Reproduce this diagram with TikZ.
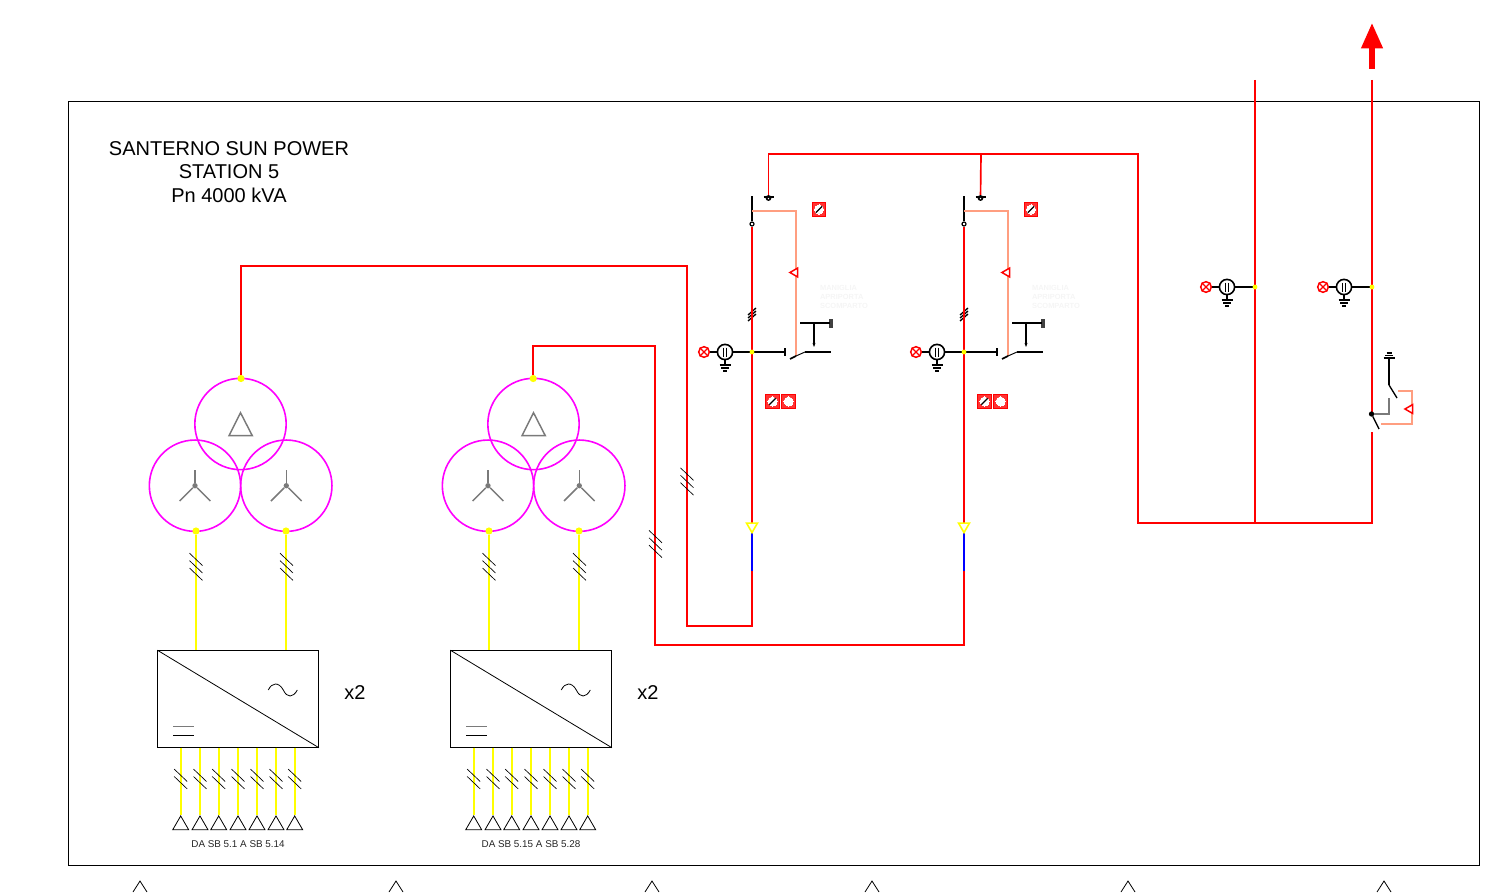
\documentclass[tikz,border=0pt]{standalone}
\usepackage{fontspec}
\setmainfont{Liberation Sans}
\usetikzlibrary{positioning,calc,arrows.meta,shapes.geometric}

\definecolor{auxline}{HTML}{FF9E80}
\definecolor{mvyellow}{HTML}{FFFF00}
\definecolor{symgray}{HTML}{7A7A7A}
\definecolor{windmag}{HTML}{FF00FF}

\begin{document}
\begin{tikzpicture}[
    x=0.75pt, y=-0.75pt,
    mv/.style={draw, color=red, line width=1.25pt},
    lv/.style={draw, color=mvyellow, line width=1.5pt},
    dcblue/.style={draw, color=blue, line width=1.25pt},
    aux/.style={draw, color=auxline, line width=1.2pt},
    blk/.style={draw, color=black, line width=1pt},
    hatch/.style={draw, color=black, line width=0.5pt},
    winding/.style={circle, draw=windmag, line width=1.2pt, minimum size=68.5pt, inner sep=0pt},
    symline/.style={draw, color=symgray, line width=1.1pt},
    ydot/.style={circle, fill=mvyellow, minimum size=5.4pt, inner sep=0pt},
    ytap/.style={circle, fill=mvyellow, minimum size=3.6pt, inner sep=0pt},
    contact/.style={circle, draw=black, fill=white, line width=0.9pt, minimum size=3pt, inner sep=0pt},
    inverter/.style={rectangle, draw, line width=0.6pt, minimum width=120.5pt, minimum height=72.5pt, inner sep=0pt},
    pvtri/.style={regular polygon, regular polygon sides=3, draw, line width=0.6pt, minimum size=13.9pt, inner sep=0pt},
    leftri/.style={regular polygon, regular polygon sides=3, shape border rotate=90, draw=red, fill=white, line width=1.1pt, minimum size=7.6pt, inner sep=0pt},
    downtri/.style={regular polygon, regular polygon sides=3, shape border rotate=180, draw=mvyellow, fill=white, line width=1.2pt, minimum size=9.4pt, inner sep=0pt},
    sqbox/.style={rectangle, draw=red, fill=red!80, line width=0.7pt, minimum size=10.2pt, inner sep=0pt},
    sqdisk/.style={circle, draw=white, fill=white, line width=0pt, minimum size=6.8pt, inner sep=0pt},
    meterc/.style={circle, draw=black, fill=white, line width=1.2pt, minimum size=11.4pt, inner sep=0pt},
    lampc/.style={circle, draw=red, fill=white, line width=1.1pt, minimum size=8pt, inner sep=0pt},
    title/.style={font=\fontsize{15}{17.6}\selectfont, align=center, inner sep=0pt},
    small/.style={font=\fontsize{7.4}{9}\selectfont, color=black!85, inner sep=0pt},
    ghost/.style={font=\fontsize{5.6}{6.5}\selectfont\bfseries, color=black!4, align=left, inner sep=0pt},
    tickthree/.pic={
        \foreach \t in {-7.4,0,7.4} \draw[hatch] (-6.5,\t-6.2) -- (6.5,\t+6.2);
    },
    ticktwo/.pic={
        \foreach \t in {-3.7,3.7} \draw[hatch] (-6.5,\t-6.2) -- (6.5,\t+6.2);
    },
    hvticks/.pic={
        \foreach \t in {-3,0,3} \draw[blk] (-4,\t+3.5) -- (4,\t-3.5);
    },
    meter/.pic={
        \draw[blk] (-20,0) -- (0,0);
        \draw[blk] (0,0) -- (0,13);
        \draw[blk, line width=1.3pt] (-5.5,13) -- (5.5,13);
        \draw[blk, line width=1.3pt] (-4,16) -- (4,16);
        \draw[blk, line width=1.3pt] (-2,19) -- (2,19);
        \node[meterc] (-c) at (0,0) {};
        \node[lampc] (-l) at (-21,0) {};
        \draw[blk, color=red] (-l.north west) -- (-l.south east);
        \draw[blk, color=red] (-l.north east) -- (-l.south west);
        \draw[blk] (-1.7,-4.5) -- (-1.7,4.5);
        \draw[blk] (1.7,-4.5) -- (1.7,4.5);
    },
    sqopen/.pic={
        \node[sqbox] (-s) at (0,0) {};
        \node[sqdisk] (-d) at (0,0) {};
    },
    sqslash/.pic={
        \node[sqbox] (-s) at (0,0) {};
        \node[sqdisk] (-d) at (0,0) {};
        \draw[blk] (-d.south west) -- (-d.north east);
    }
]

\useasboundingbox (0,0) rectangle (1509,892);

% Frame
\node[draw, line width=0.6pt, minimum width=1058.2pt, minimum height=573pt, inner sep=0pt] (frame) at (774,483.2) {};

% Title
\node[title] (station) at (229,172) {SANTERNO SUN POWER\\STATION 5\\Pn 4000 kVA};

% Transformers and inverters
\foreach \i/\dx/\lbl in {1/0/DA SB 5.1 A SB 5.14, 2/293/DA SB 5.15 A SB 5.28} {
\begin{scope}[xshift=\dx*0.75pt]
    \node[winding] (hvw\i) at (240.5,424) {};
    \node[winding] (lwa\i) at (195,485.7) {};
    \node[winding] (lwb\i) at (286.3,485.7) {};

    % delta and star marks
    \coordinate (da\i) at (240.5,412.7);
    \coordinate (db\i) at (229,435.7);
    \coordinate (dc\i) at (252.3,435.7);
    \draw[symline] (da\i) -- (db\i) -- (dc\i) -- cycle;
    \foreach \s/\cx in {a/195,b/286.3} {
        \node[circle, fill=symgray, minimum size=4pt, inner sep=0pt] (st\s\i) at (\cx,485.7) {};
        \coordinate (sx\s\i) at (\cx,469.7);
        \coordinate (sy\s\i) at (\cx-15.3,501);
        \coordinate (sz\s\i) at (\cx+15.3,501);
        \draw[symline] (st\s\i) -- (sx\s\i);
        \draw[symline] (st\s\i) -- (sy\s\i);
        \draw[symline] (st\s\i) -- (sz\s\i);
    }

    % Inverter box
    \node[inverter] (inv\i) at (238.2,699) {};
    \draw[line width=0.6pt] (inv\i.north west) -- (inv\i.south east);
    \draw[line width=0.6pt] (268.3,690) .. controls (272,682) and (279,682) .. (283.3,690) .. controls (287,698) and (293,698) .. (297.3,690);
    \coordinate (dca\i) at (173,726.7);
    \coordinate (dcb\i) at (194,726.7);
    \coordinate (dcc\i) at (173,735);
    \coordinate (dcd\i) at (194,735);
    \draw[symline, line width=0.7pt] (dca\i) -- (dcb\i);
    \draw[line width=0.6pt] (dcc\i) -- (dcd\i);
    \node[title] (mult\i) at (355,692.5) {x2};

    % Low voltage leads
    \node[ydot] (lva\i) at (196,531) {};
    \node[ydot] (lvb\i) at (286,531) {};
    \coordinate (ina\i) at (196,650);
    \coordinate (inb\i) at (286,650);
    \draw[lv] (lva\i) -- (ina\i);
    \draw[lv] (lvb\i) -- (inb\i);
    \pic at (196,566.8) {tickthree};
    \pic at (286.5,566.8) {tickthree};

    % String inputs
    \foreach \n/\sx in {1/180.7,2/200,3/218.7,4/238,5/257,6/276,7/294.7} {
        \coordinate (so\i\n) at (\sx,747.5);
        \node[pvtri] (pv\i\n) at (\sx,825.2) {};
        \draw[lv] (so\i\n) -- (pv\i\n.corner 1);
        \pic at (\sx,779) {ticktwo};
    }
    \node[small] (strings\i) at (238,844) {\lbl};
\end{scope}
}

% Dots on the delta windings
\node[ydot] (hv1) at (241,378.5) {};
\node[ydot] (hv2) at (533.2,378.5) {};

% MV bays
\foreach \i/\dx in {1/0,2/212} {
\begin{scope}[xshift=\dx*0.75pt]
    \node[contact] (ct\i) at (752,224) {};
    \coordinate (upt\i) at (752,196);
    \draw[blk] (upt\i) -- (ct\i);
    \coordinate (auxa\i) at (752,211);
    \coordinate (auxb\i) at (796,211);
    \coordinate (auxc\i) at (796,356);
    \coordinate (bla\i) at (752,533);
    \coordinate (blb\i) at (752,571);
    \node[circle, fill=black, minimum size=4.4pt, inner sep=0pt] (gnd\i) at (768.5,198) {};
    \coordinate (gba\i) at (763.5,197);
    \coordinate (gbb\i) at (774,197);
    \coordinate (trip\i) at (785,352);
    \coordinate (tra\i) at (785,348);
    \coordinate (trb\i) at (785,356);
    \coordinate (bda\i) at (790,359);
    \coordinate (bdb\i) at (796,356);
    \coordinate (bdc\i) at (805,352);
    \coordinate (bdd\i) at (831,352);
    \coordinate (aca\i) at (800,323);
    \coordinate (acb\i) at (830,323);
    \coordinate (acc\i) at (814,323);
    \coordinate (acd\i) at (814,347);
    \node[rectangle, fill=black!75, minimum width=3.4pt, minimum height=6.6pt, inner sep=0pt] (kn\i) at (831,323.5) {};

    \draw[aux] (auxa\i) -- (auxb\i) -- (auxc\i);
    \node[leftri] (ind\i) at (795,272.5) {};
    \draw[blk] (gba\i) -- (gbb\i);
    \node[circle, fill=white, minimum size=1.2pt, inner sep=0pt] (gdot\i) at (768.5,198.6) {};
    \pic at (752,314.5) {hvticks};
    \pic (mt\i) at (725,352) {meter};
    \draw[blk] (mt\i-c) -- (trip\i);
    \draw[blk] (tra\i) -- (trb\i);
    \draw[blk, line width=1.3pt] (bda\i) -- (bdb\i);
    \draw[blk, line width=0.7pt] (bdb\i) -- (bdc\i);
    \draw[blk] (bdc\i) -- (bdd\i);
    \draw[blk] (aca\i) -- (acb\i);
    \draw[-{Stealth[length=3pt,width=2.2pt]}, line width=0.9pt] (acc\i) -- (acd\i);
    \pic (sa\i) at (819,209.5) {sqslash};
    \pic (sb\i) at (772.5,401.5) {sqslash};
    \pic (sc\i) at (788.5,401.5) {sqopen};
    \node[ghost] (door\i) at (844,297) {MANIGLIA\\APRIPORTA\\SCOMPARTO};
\end{scope}
}

% MV cables
\coordinate (ca1) at (687,266);
\coordinate (cb1) at (687,626);
\coordinate (ca2) at (655,346);
\coordinate (cb2) at (655,645);
\draw[mv] (hv1) |- (ca1) -- (cb1) -| (ct1);
\draw[mv] (hv2) |- (ca2) -- (cb2) -| (ct2);
\draw[dcblue] (bla1) -- (blb1);
\draw[dcblue] (bla2) -- (blb2);
\node[downtri] (fd1) at (752,526.3) {};
\node[downtri] (fd2) at (964,526.3) {};
\node[ytap] (tp1) at (752,352) {};
\node[ytap] (tp2) at (964,352) {};
\pic at (687,481.5) {tickthree};
\pic at (655.5,544) {tickthree};

% Output bus
\coordinate (busa) at (1138,154);
\coordinate (busb) at (1138,523);
\coordinate (busc) at (1372,523);
\coordinate (brkl) at (1372,432);
\coordinate (brku) at (1372,414);
\coordinate (busd) at (981,154);
\coordinate (bust) at (1255,80);
\coordinate (buse) at (1255,523);
\coordinate (outt) at (1372,80);
\draw[mv] (gnd1) |- (busa) -- (busb) -- (busc) -- (brkl);
\draw[mv] (gnd2) -- (busd);
\draw[mv] (bust) -- (buse);
\draw[mv] (outt) -- (brku);

% Output arrow
\coordinate (ara) at (1372,69);
\coordinate (arb) at (1372,23);
\draw[-{Triangle[length=19pt,width=15.5pt]}, red, line width=3.8pt] (ara) -- (arb);

% Output meters
\coordinate (mba) at (1255,287);
\coordinate (mbb) at (1372,287);
\pic (mt3) at (1227,287) {meter};
\pic (mt4) at (1344,287) {meter};
\draw[blk] (mt3-c) -- (mba);
\draw[blk] (mt4-c) -- (mbb);
\node[ytap] (tp3) at (mba) {};
\node[ytap] (tp4) at (mbb) {};

% Output breaker
\coordinate (ea) at (1389,385);
\coordinate (eb) at (1389,358);
\coordinate (ec) at (1397,398);
\coordinate (ed) at (1379,429);
\coordinate (la) at (1389,398);
\coordinate (lb) at (1389,414);
\coordinate (ra) at (1398,391);
\coordinate (rb) at (1412,391);
\coordinate (rc) at (1412,424);
\coordinate (rd) at (1381,424);
\node[contact, fill=black] (bc) at (1371.5,414) {};
\draw[blk] (ea) -- (eb);
\draw[blk, line width=1.3pt] (1383.5,358) -- (1394.5,358);
\draw[blk, line width=1.3pt] (1385,355.5) -- (1393,355.5);
\draw[blk, line width=1.3pt] (1386.5,353) -- (1391.5,353);
\draw[blk] (ea) -- (ec);
\draw[blk] (bc) -- (ed);
\draw[symline] (la) -- (lb) -- (bc);
\draw[aux] (ra) -- (rb) -- (rc) -- (rd);
\node[leftri] (ind3) at (1410,409) {};

% Cut-off triangles below the frame
\foreach \ax [count=\j] in {140,396,652,872,1128,1384} {
    \coordinate (apx\j) at (\ax,881);
    \coordinate (apl\j) at (\ax-7,892);
    \coordinate (apr\j) at (\ax+7,892);
    \draw[line width=0.6pt] (apl\j) -- (apx\j) -- (apr\j);
}

\end{tikzpicture}
\end{document}
